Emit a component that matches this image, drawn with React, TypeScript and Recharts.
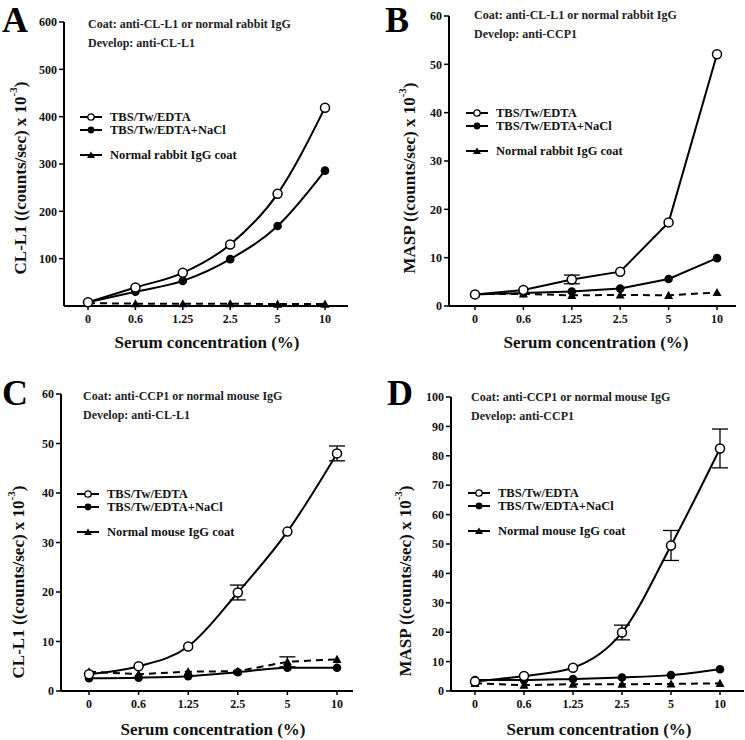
import { LineChart, Line, XAxis, YAxis, ErrorBar } from "recharts";

// x categories (serum concentration, %)
const concentrations = ["0", "0.6", "1.25", "2.5", "5", "10"];

// Panel A: coat anti-CL-L1, develop anti-CL-L1
const aEdta = [8, 39, 70, 130, 237, 419];
const aNacl = [8, 30, 53, 99, 169, 286];
const aNormal = [6, 5, 5, 5, 4, 4];
const aTicks = [100, 200, 300, 400, 500, 600];

// Panel B: coat anti-CL-L1, develop anti-CCP1
const bEdta = [2.4, 3.3, 5.5, 7.1, 17.3, 52.1];
const bEdtaErr = [null, null, 0.9, null, null, null];
const bNacl = [2.4, 2.7, 3.0, 3.6, 5.6, 9.9];
const bNormal = [2.5, 2.5, 2.2, 2.3, 2.2, 2.8];
const bTicks = [0, 10, 20, 30, 40, 50, 60];

// Panel C: coat anti-CCP1, develop anti-CL-L1
const cEdta = [3.4, 5.0, 9.0, 19.9, 32.2, 48.0];
const cEdtaErr = [null, null, null, 1.5, null, 1.5];
const cNacl = [2.6, 2.7, 3.0, 3.8, 4.7, 4.7];
const cNormal = [3.9, 3.4, 3.9, 4.0, 5.9, 6.4];
const cNormalErr = [null, null, null, null, 1.0, null];
const cTicks = [0, 10, 20, 30, 40, 50, 60];

// Panel D: coat anti-CCP1, develop anti-CCP1
const dEdta = [3.2, 5.1, 7.9, 19.9, 49.5, 82.5];
const dEdtaErr = [null, null, null, 2.5, 5.1, 6.6];
const dNacl = [3.7, 3.7, 4.1, 4.6, 5.4, 7.4];
const dNormal = [2.6, 2.0, 2.3, 2.3, 2.4, 2.6];
const dTicks = [0, 10, 20, 30, 40, 50, 60, 70, 80, 90, 100];

const FONT = "'Liberation Serif', 'Times New Roman', serif";

function rows(edta: number[], nacl: number[], normal: number[], edtaErr?: (number | null)[], normalErr?: (number | null)[]) {
  return concentrations.map((c, i) => ({
    conc: c,
    edta: edta[i],
    nacl: nacl[i],
    normal: normal[i],
    edtaErr: edtaErr ? edtaErr[i] : null,
    normalErr: normalErr ? normalErr[i] : null,
  }));
}

const triangleDot = (r: number) => (p: any) => (
  <path
    key={"t" + p.index}
    d={`M${p.cx},${p.cy - r}L${p.cx + r},${p.cy + r * 0.8}L${p.cx - r},${p.cy + r * 0.8}Z`}
    fill="#000"
  />
);

function LegendIcon({ kind }: { kind: string }) {
  return (
    <svg width={22} height={10} style={{ display: "block" }}>
      <line x1={0} x2={22} y1={5} y2={5} stroke="#000" strokeWidth={2} />
      {kind === "open" && <circle cx={11} cy={5} r={3.2} fill="#fff" stroke="#000" strokeWidth={1.3} />}
      {kind === "filled" && <circle cx={11} cy={5} r={3.4} fill="#000" />}
      {kind === "tri" && <path d="M11,1.5L15,8L7,8Z" fill="#000" />}
    </svg>
  );
}

interface PanelCfg {
  left: number;
  top: number;
  width: number;
  height: number;
  plotTop: number;
  plotBottom: number;
  plotRight: number;
  yWidth: number;
  padL: number;
  padR: number;
  domainMax: number;
  ticks: number[];
  letter: string;
  letterX: number;
  letterY: number;
  coat: string;
  develop: string;
  annX: number;
  annY: number;
  yName: string;
  yTitleX: number;
  yTitleY: number;
  xTitleX: number;
  xTitleY: number;
  legX: number;
  legY: number;
  normalLabel: string;
  curve: "monotone" | "linear";
  data: any[];
}

function Panel({ cfg }: { cfg: PanelCfg }) {
  const marginBottom = cfg.height - cfg.plotBottom - 30;
  const tickStyle = { fontFamily: FONT, fontWeight: 700, fontSize: 12, fill: "#111" };
  return (
    <div style={{ position: "absolute", left: cfg.left, top: cfg.top, width: cfg.width, height: cfg.height }}>
      <LineChart
        width={cfg.width}
        height={cfg.height}
        data={cfg.data}
        margin={{ top: cfg.plotTop, right: cfg.width - cfg.plotRight, bottom: marginBottom, left: 0 }}
      >
        <XAxis
          dataKey="conc"
          type="category"
          height={30}
          padding={{ left: cfg.padL, right: cfg.padR }}
          axisLine={{ stroke: "#000", strokeWidth: 2 }}
          tickLine={{ stroke: "#000", strokeWidth: 1.5 }}
          tickSize={4}
          tickMargin={4}
          tick={tickStyle}
          interval={0}
          label={{
            content: () => (
              <text
                x={cfg.xTitleX}
                y={cfg.xTitleY}
                textAnchor="middle"
                style={{ fontFamily: FONT, fontWeight: 700, fontSize: 17, fill: "#111" }}
              >
                Serum concentration (%)
              </text>
            ),
          }}
        />
        <YAxis
          type="number"
          width={cfg.yWidth}
          domain={[0, cfg.domainMax]}
          ticks={cfg.ticks}
          interval={0}
          axisLine={{ stroke: "#000", strokeWidth: 2 }}
          tickLine={{ stroke: "#000", strokeWidth: 1.5 }}
          tickSize={5}
          tickMargin={2}
          tick={tickStyle}
          label={{
            content: () => (
              <text
                transform={`translate(${cfg.yTitleX},${cfg.yTitleY}) rotate(-90)`}
                textAnchor="middle"
                dominantBaseline="central"
                style={{ fontFamily: FONT, fontWeight: 700, fontSize: 17, fill: "#111" }}
              >
                {cfg.yName} ((counts/sec) x 10
                <tspan dy={-7} fontSize={11}>
                  -3
                </tspan>
                <tspan dy={7}>)</tspan>
              </text>
            ),
          }}
        />
        <Line
          dataKey="normal"
          type="linear"
          stroke="#000"
          strokeWidth={2}
          strokeDasharray="7 5"
          dot={triangleDot(4.5)}
          isAnimationActive={false}
        >
          <ErrorBar dataKey="normalErr" width={8} stroke="#000" strokeWidth={1.3} direction="y" />
        </Line>
        <Line
          dataKey="nacl"
          type={cfg.curve}
          stroke="#000"
          strokeWidth={2}
          dot={{ r: 4.3, fill: "#000", stroke: "#000", strokeWidth: 0 }}
          isAnimationActive={false}
        />
        <Line
          dataKey="edta"
          type={cfg.curve}
          stroke="#000"
          strokeWidth={2}
          dot={{ r: 4.5, fill: "#fff", stroke: "#000", strokeWidth: 1.5 }}
          isAnimationActive={false}
        >
          <ErrorBar dataKey="edtaErr" width={8} stroke="#000" strokeWidth={1.3} direction="y" />
        </Line>
      </LineChart>

      <div
        style={{
          position: "absolute",
          left: cfg.letterX,
          top: cfg.letterY - 32,
          fontFamily: FONT,
          fontWeight: 700,
          fontSize: 36,
          lineHeight: "40px",
          color: "#000",
        }}
      >
        {cfg.letter}
      </div>
      <div
        style={{
          position: "absolute",
          left: cfg.annX,
          top: cfg.annY - 9,
          fontFamily: FONT,
          fontWeight: 700,
          fontSize: 12,
          lineHeight: "19px",
          color: "#222",
          whiteSpace: "nowrap",
        }}
      >
        <div>{cfg.coat}</div>
        <div>{cfg.develop}</div>
      </div>
      <div
        style={{
          position: "absolute",
          left: cfg.legX,
          top: cfg.legY - 7,
          fontFamily: FONT,
          fontWeight: 700,
          fontSize: 12,
          color: "#111",
          whiteSpace: "nowrap",
        }}
      >
        {[
          { kind: "open", label: "TBS/Tw/EDTA", gap: 0 },
          { kind: "filled", label: "TBS/Tw/EDTA+NaCl", gap: 0 },
          { kind: "tri", label: cfg.normalLabel, gap: 12 },
        ].map((it) => (
          <div key={it.label} style={{ display: "flex", alignItems: "center", height: 13, marginTop: it.gap }}>
            <LegendIcon kind={it.kind} />
            <span
              style={{
                display: "inline-block",
                marginLeft: 8,
                fontSize: 12.5,
                lineHeight: "12px",
                height: 12,
                overflow: "visible",
              }}
            >
              {it.label}
            </span>
          </div>
        ))}
      </div>
    </div>
  );
}

const panels: PanelCfg[] = [
  {
    left: 0, top: 0, width: 372, height: 370,
    plotTop: 22, plotBottom: 306, plotRight: 348, yWidth: 64, padL: 24, padR: 23,
    domainMax: 600, ticks: aTicks,
    letter: "A", letterX: 2, letterY: 32,
    coat: "Coat: anti-CL-L1 or normal rabbit IgG", develop: "Develop: anti-CL-L1", annX: 88, annY: 24,
    yName: "CL-L1", yTitleX: 20, yTitleY: 178, xTitleX: 207, xTitleY: 348,
    legX: 80, legY: 117, normalLabel: "Normal rabbit IgG coat", curve: "monotone",
    data: rows(aEdta, aNacl, aNormal),
  },
  {
    left: 372, top: 0, width: 373, height: 370,
    plotTop: 16, plotBottom: 306, plotRight: 364, yWidth: 77, padL: 26, padR: 19,
    domainMax: 60, ticks: bTicks,
    letter: "B", letterX: 13, letterY: 32,
    coat: "Coat: anti-CL-L1 or normal rabbit IgG", develop: "Develop: anti-CCP1", annX: 102, annY: 15,
    yName: "MASP", yTitleX: 37, yTitleY: 178, xTitleX: 224, xTitleY: 348,
    legX: 94, legY: 113, normalLabel: "Normal rabbit IgG coat", curve: "linear",
    data: rows(bEdta, bNacl, bNormal, bEdtaErr),
  },
  {
    left: 0, top: 370, width: 372, height: 370,
    plotTop: 24, plotBottom: 321, plotRight: 353, yWidth: 61, padL: 28, padR: 16,
    domainMax: 60, ticks: cTicks,
    letter: "C", letterX: 2, letterY: 35,
    coat: "Coat: anti-CCP1 or normal mouse IgG", develop: "Develop: anti-CL-L1", annX: 83, annY: 26,
    yName: "CL-L1", yTitleX: 18, yTitleY: 212, xTitleX: 213, xTitleY: 365,
    legX: 77, legY: 124, normalLabel: "Normal mouse IgG coat", curve: "monotone",
    data: rows(cEdta, cNacl, cNormal, cEdtaErr, cNormalErr),
  },
  {
    left: 372, top: 370, width: 373, height: 370,
    plotTop: 27, plotBottom: 321, plotRight: 372, yWidth: 79, padL: 24, padR: 24,
    domainMax: 100, ticks: dTicks,
    letter: "D", letterX: 15, letterY: 35,
    coat: "Coat: anti-CCP1 or normal mouse IgG", develop: "Develop: anti-CCP1", annX: 99, annY: 27,
    yName: "MASP", yTitleX: 33, yTitleY: 211, xTitleX: 227, xTitleY: 365,
    legX: 96, legY: 123, normalLabel: "Normal mouse IgG coat", curve: "monotone",
    data: rows(dEdta, dNacl, dNormal, dEdtaErr),
  },
];

export default function App() {
  return (
    <div style={{ position: "absolute", left: 0, top: 0, width: 745, height: 740, background: "#fff", overflow: "hidden" }}>
      {panels.map((p) => (
        <Panel key={p.letter} cfg={p} />
      ))}
    </div>
  );
}
